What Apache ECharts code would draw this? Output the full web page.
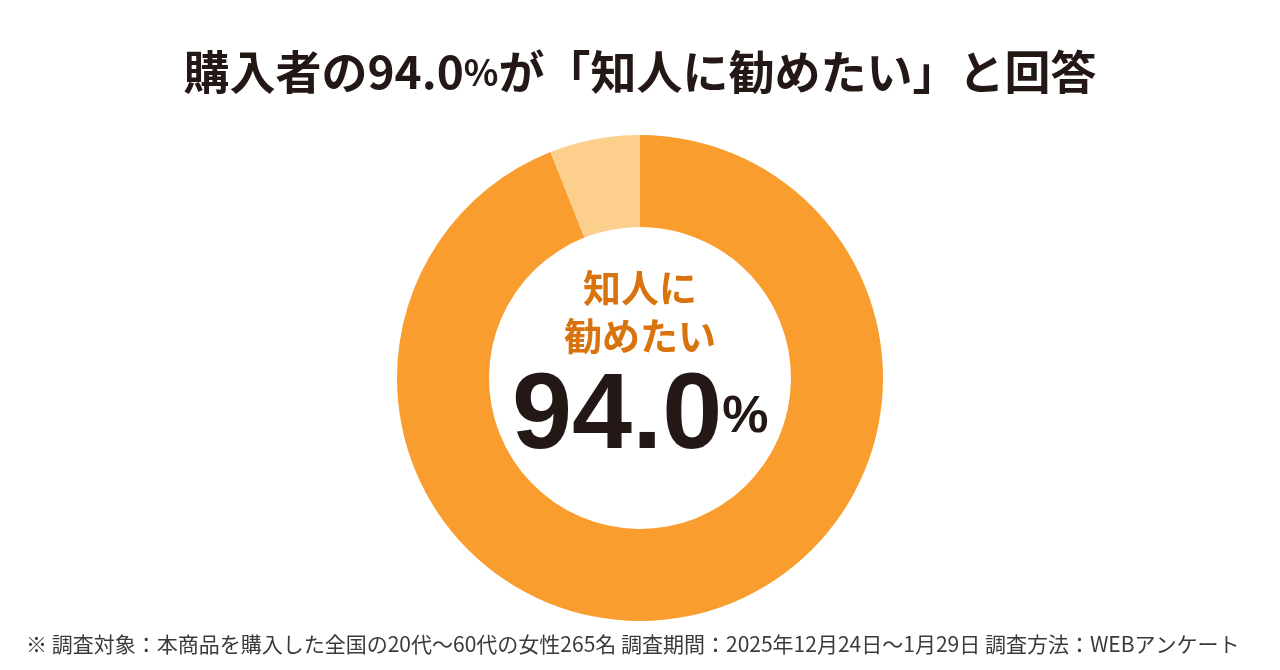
<!DOCTYPE html>
<html><head><meta charset="utf-8">
<script src="https://cdn.jsdelivr.net/npm/echarts@6/dist/echarts.min.js"></script>
<style>html,body{margin:0;padding:0;background:#fff}#c{width:1280px;height:670px}</style>
</head><body><div id="c"></div>
<script>
const categories = ['知人に勧めたい', 'その他'];
const values = [94.0, 6.0];
const colors = ['#F99D2E', '#FDCF8C'];
const titlePre = '購入者の';
const titleNum = '94.0';
const titlePct = '%';
const titlePost = 'が「知人に勧めたい」と回答';
const centerLabel1 = '知人に';
const centerLabel2 = '勧めたい';
const centerValue = '94.0';
const noteText = '※ 調査対象：本商品を購入した全国の20代～60代の女性265名 調査期間：2025年12月24日～1月29日 調査方法：WEBアンケート';

const chart = echarts.init(document.getElementById('c'), null, {renderer: 'canvas'});
const jp = '"Noto Sans CJK JP", "Noto Sans", sans-serif';
chart.setOption({
  backgroundColor: '#fff',
  animation: false,
  title: {
    text: '{j|' + titlePre + '}{n|' + titleNum + '}{p|' + titlePct + '}{j|' + titlePost + '}',
    left: 'center', top: 44,
    textStyle: {
      rich: {
        j: {fontFamily: jp, fontSize: 46, fontWeight: 'bold', color: '#231815'},
        n: {fontFamily: jp, fontSize: 46, fontWeight: 'bold', color: '#231815'},
        p: {fontFamily: jp, fontSize: 36, fontWeight: 'bold', color: '#231815'}
      }
    }
  },
  series: [{
    type: 'pie',
    center: [640, 378],
    radius: [151, 243],
    startAngle: 90,
    clockwise: true,
    label: {show: false},
    labelLine: {show: false},
    silent: true,
    data: categories.map((c, i) => ({name: c, value: values[i], itemStyle: {color: colors[i]}}))
  }],
  graphic: [
    {type: 'text', left: 'center', top: 269, style: {text: centerLabel1, font: 'bold 38px ' + jp, fill: '#D9730D'}},
    {type: 'text', left: 'center', top: 317, style: {text: centerLabel2, font: 'bold 38px ' + jp, fill: '#D9730D'}},
    {type: 'text', left: 512, top: 364, style: {
      rich: {
        a: {font: 'bold 108px "Liberation Sans", Arial, sans-serif', fill: '#231815'},
        b: {font: 'bold 52px "Liberation Sans", Arial, sans-serif', fill: '#231815'}
      },
      text: '{a|' + centerValue + '}{b|%}'
    }},
    {type: 'text', left: 26, top: 634, style: {text: noteText, font: '21px ' + jp, fill: '#3a3a3a'}}
  ]
});
</script></body></html>
